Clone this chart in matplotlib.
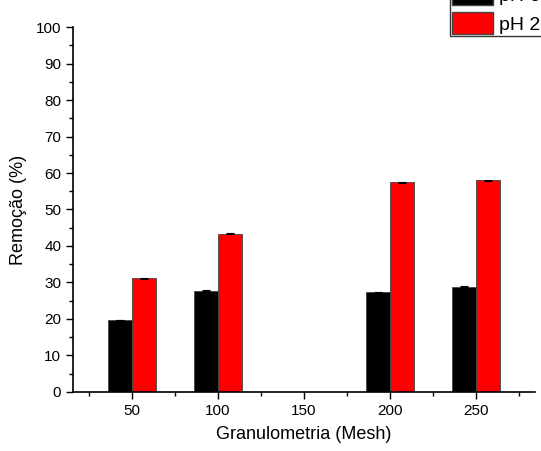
import numpy as np
import matplotlib.pyplot as plt
from matplotlib.patches import Patch
from matplotlib.ticker import MultipleLocator

plt.rcParams['font.family'] = ['Liberation Sans', 'DejaVu Sans']

##################################################
# data

mesh = [50, 100, 200, 250]
rem_ph6 = [19.7, 27.7, 27.3, 28.8]
rem_ph2 = [31.2, 43.4, 57.4, 58.0]
err_ph6 = [0.1, 0.1, 0.1, 0.15]
err_ph2 = [0.15, 0.1, 0.15, 0.15]
labels = ['pH 6', 'pH 2']

##################################################
# plot

fig = plt.figure(figsize=(5.41, 4.51), dpi=100)
ax = fig.add_axes([0.135, 0.131, 0.854, 0.809])

w = 14
x = np.array(mesh)
ax.bar(x - w/2, rem_ph6, width=w, color='black', edgecolor='#444444', linewidth=0.6,
       yerr=err_ph6, capsize=3, error_kw=dict(ecolor='black', elinewidth=0.8, capthick=0.8))
ax.bar(x + w/2, rem_ph2, width=w, color='red', edgecolor='#444444', linewidth=0.6,
       yerr=err_ph2, capsize=3, error_kw=dict(ecolor='black', elinewidth=0.8, capthick=0.8))

ax.set_xlim(15.7, 284.3)
ax.set_ylim(0, 100)
ax.xaxis.set_major_locator(MultipleLocator(50))
ax.xaxis.set_minor_locator(MultipleLocator(25))
ax.yaxis.set_major_locator(MultipleLocator(10))
ax.yaxis.set_minor_locator(MultipleLocator(5))

for side in ['top', 'right']:
    ax.spines[side].set_visible(False)
for side in ['left', 'bottom']:
    ax.spines[side].set_linewidth(1.2)
ax.tick_params(which='major', direction='out', length=5, width=1, labelsize=11)
ax.tick_params(which='minor', direction='out', length=3, width=1)

ax.set_xlabel('Granulometria (Mesh)', fontsize=13, labelpad=6)
ax.set_ylabel('Remoção (%)', fontsize=13, labelpad=6)

# legend sits partly outside the canvas, as in the exported figure
handles = [Patch(facecolor='black', edgecolor='#444444'),
           Patch(facecolor='red', edgecolor='#444444')]
fig.legend(handles, labels, loc='lower left', bbox_to_anchor=(450/541, 1 - 36/451),
           fontsize=14, frameon=True, fancybox=False, edgecolor='black',
           handlelength=2.1, handleheight=1.3, handletextpad=0.3,
           labelspacing=0.4, borderpad=0.12, borderaxespad=0)

fig.savefig('out.png', dpi=100)
